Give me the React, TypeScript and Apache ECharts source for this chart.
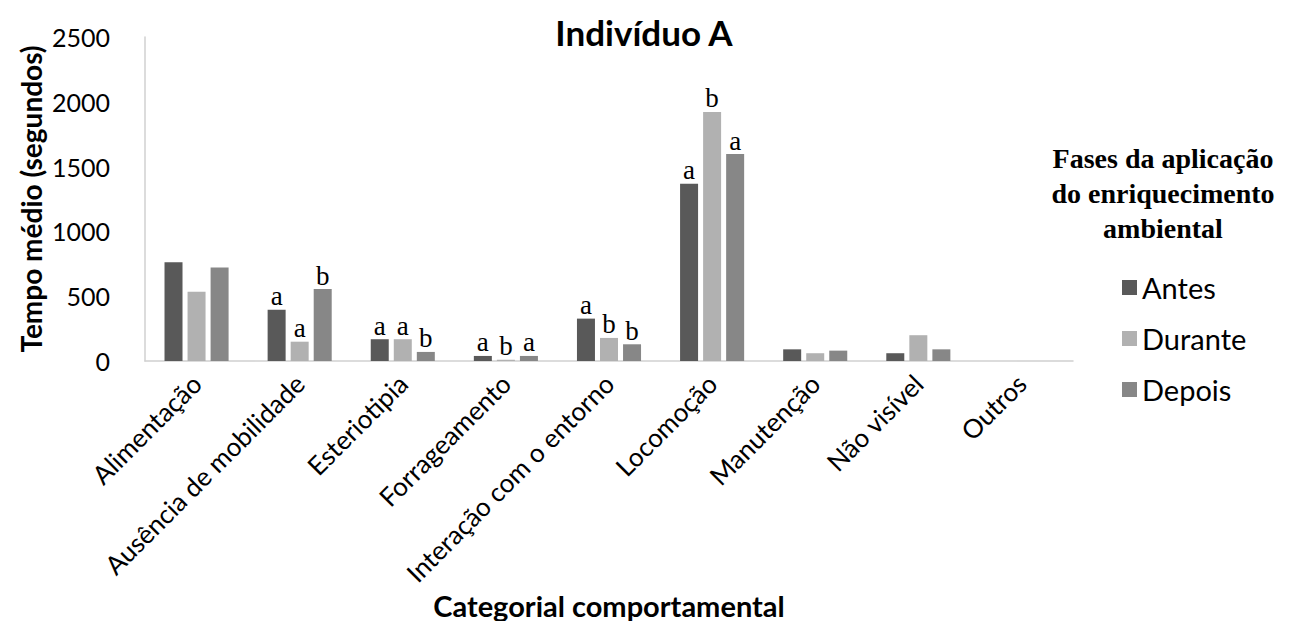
import React, { useEffect, useRef } from "react";
import * as echarts from "echarts";

const categories = [
  "Alimentação",
  "Ausência de mobilidade",
  "Esteriotipia",
  "Forrageamento",
  "Interação com o entorno",
  "Locomoção",
  "Manutenção",
  "Não visível",
  "Outros",
];
const seriesNames = ["Antes", "Durante", "Depois"];
const antes = [761, 395, 168, 39, 327, 1368, 90, 60, 0];
const durante = [534, 149, 168, 10, 178, 1922, 60, 199, 0];
const depois = [722, 555, 70, 39, 129, 1597, 80, 90, 0];
const lettersAntes = ["", "a", "a", "a", "a", "a", "", "", ""];
const lettersDurante = ["", "a", "a", "b", "b", "b", "", "", ""];
const lettersDepois = ["", "b", "b", "a", "b", "a", "", "", ""];
const yTicks = [0, 500, 1000, 1500, 2000, 2500];
const colors = ["#595959", "#b1b1b1", "#878787"];

export default function App() {
  const ref = useRef<HTMLDivElement>(null);
  useEffect(() => {
    if (!ref.current) return;
    const chart = echarts.init(ref.current, undefined, { renderer: "svg" });
    const values = [antes, durante, depois];
    const letters = [lettersAntes, lettersDurante, lettersDepois];
    const sans = "Lato, 'Open Sans', sans-serif";
    const serif = "'Liberation Serif', 'DejaVu Serif', serif";
    chart.setOption({
      animation: false,
      backgroundColor: "#ffffff",
      title: [
        {
          text: "Indivíduo A",
          left: 639,
          top: 9,
          textAlign: "center",
          textStyle: { fontFamily: sans, fontSize: 35, fontWeight: "bold", color: "#000" },
        },
      ],
      graphic: [
        {
          type: "text",
          x: 1163,
          y: 141,
          style: {
            text: "Fases da aplicação\ndo enriquecimento\nambiental",
            font: `bold 28px ${serif}`,
            fill: "#000",
            align: "center",
            lineHeight: 35,
          },
        },
        {
          type: "text",
          x: 609,
          y: 605,
          style: {
            text: "Categorial comportamental",
            font: `bold 29px ${sans}`,
            fill: "#000",
            align: "center",
            verticalAlign: "middle",
          },
        },
        {
          type: "text",
          x: 31,
          y: 199,
          rotation: Math.PI / 2,
          style: {
            text: "Tempo médio (segundos)",
            font: `bold 28px ${sans}`,
            fill: "#000",
            align: "center",
            verticalAlign: "middle",
          },
        },
      ],
      legend: {
        orient: "vertical",
        left: 1117,
        top: 268,
        itemWidth: 15,
        itemHeight: 15,
        itemGap: 22,
        icon: "rect",
        data: seriesNames,
        textStyle: { fontFamily: sans, fontSize: 29, color: "#000", padding: [0, 0, 0, 0] },
      },
      grid: { left: 145, right: 224, top: 37, bottom: 260, containLabel: false },
      xAxis: {
        type: "category",
        data: categories,
        axisLine: { lineStyle: { color: "#d0d0d0", width: 1.5 } },
        axisTick: { show: false },
        axisLabel: {
          rotate: 45,
          interval: 0,
          margin: 18,
          fontFamily: sans,
          fontSize: 26,
          color: "#000",
        },
      },
      yAxis: {
        type: "value",
        min: 0,
        max: 2500,
        interval: 500,
        axisLine: { show: true, lineStyle: { color: "#d0d0d0", width: 1.5 } },
        axisTick: { show: false },
        splitLine: { show: false },
        axisLabel: {
          margin: 35,
          fontFamily: sans,
          fontSize: 25,
          color: "#000",
          formatter: (v: number) => (yTicks.includes(v) ? String(v) : ""),
        },
      },
      series: seriesNames.map((name, i) => ({
        name,
        type: "bar",
        barWidth: 18,
        barGap: "28%",
        itemStyle: { color: colors[i] },
        data: values[i],
        label: {
          show: true,
          position: "top",
          distance: 0,
          fontFamily: serif,
          fontSize: 27,
          color: "#000",
          formatter: (p: any) => letters[i][p.dataIndex] || "",
        },
      })),
    });
    return () => chart.dispose();
  }, []);
  return (
    <div
      ref={ref}
      style={{ position: "absolute", left: 0, top: 0, width: 1297, height: 621 }}
    />
  );
}
